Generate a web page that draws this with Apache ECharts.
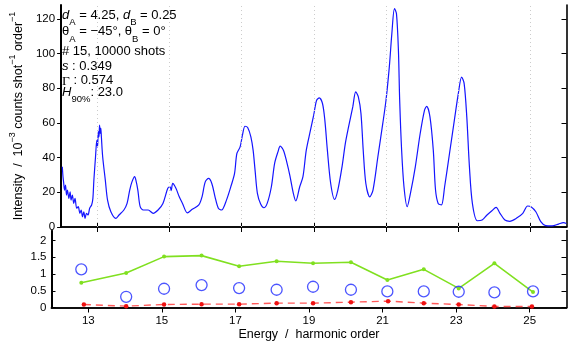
<!DOCTYPE html>
<html>
<head>
<meta charset="utf-8">
<script src="https://cdn.jsdelivr.net/npm/echarts@6/dist/echarts.min.js"></script>
<style>
  html, body { margin: 0; padding: 0; background: #fff; }
  #chart { width: 568px; height: 345px; }
</style>
</head>
<body>
<div id="chart"></div>
<script>
// Harmonic spectrum (energy in harmonic order, intensity in 1e-3 counts/shot/order)
const spectrumEnergy = [
  12.034, 12.053, 12.069, 12.096, 12.123, 12.150, 12.177, 12.215, 12.250, 12.277,
  12.313, 12.350, 12.386, 12.432, 12.475, 12.521, 12.556, 12.594, 12.629, 12.664,
  12.702, 12.746, 12.792, 12.846, 12.881, 12.908, 12.954, 12.989, 13.010, 13.030,
  13.050, 13.065, 13.085, 13.100, 13.116, 13.152, 13.225, 13.287, 13.379, 13.514,
  13.604, 13.739, 13.828, 13.901, 13.963, 14.037, 14.072, 14.126, 14.191, 14.280,
  14.415, 14.551, 14.686, 14.821, 14.956, 15.019, 15.050, 15.092, 15.181, 15.273,
  15.363, 15.498, 15.633, 15.815, 15.904, 15.993, 16.085, 16.175, 16.264, 16.356,
  16.445, 16.581, 16.716, 16.805, 16.870, 16.959, 17.032, 17.095, 17.168, 17.257,
  17.319, 17.373, 17.438, 17.528, 17.617, 17.709, 17.825, 17.915, 18.007, 18.069,
  18.158, 18.250, 18.339, 18.429, 18.502, 18.610, 18.700, 18.792, 18.908, 18.997,
  19.078, 19.152, 19.241, 19.306, 19.376, 19.468, 19.576, 19.666, 19.782, 19.874,
  19.963, 20.080, 20.161, 20.234, 20.307, 20.369, 20.442, 20.551, 20.640, 20.775,
  20.911, 21.000, 21.092, 21.162, 21.235, 21.290, 21.344, 21.379, 21.433, 21.498,
  21.587, 21.677, 21.812, 21.947, 22.066, 22.128, 22.218, 22.310, 22.372, 22.445,
  22.535, 22.624, 22.759, 22.894, 23.003, 23.095, 23.165, 23.238, 23.311, 23.393,
  23.528, 23.663, 23.798, 23.934, 24.050, 24.158, 24.294, 24.429, 24.610, 24.789,
  24.924, 25.016, 25.151, 25.287, 25.422, 25.601, 25.780, 25.915, 25.996
];
const spectrumIntensity = [
  34.7, 29.0, 26.0, 21.3, 24.2, 18.4, 21.3, 16.5, 20.3, 15.5,
  18.4, 13.6, 16.5, 10.8, 11.7, 7.9, 9.8, 5.9, 8.8, 5.0,
  7.9, 6.9, 10.8, 12.7, 16.5, 27.0, 40.5, 50.0, 46.0, 55.0,
  52.0, 58.7, 54.0, 57.0, 52.0, 40.5, 27.0, 15.5, 8.8, 5.0,
  6.9, 9.8, 13.6, 21.3, 26.0, 29.0, 27.0, 21.3, 11.7, 9.8,
  9.8, 7.9, 9.8, 13.6, 22.3, 23.2, 21.0, 25.1, 22.3, 17.4,
  13.6, 8.2, 10.2, 12.7, 17.4, 26.0, 28.0, 25.1, 17.4, 10.8,
  9.8, 15.5, 24.2, 30.9, 42.4, 46.2, 53.9, 58.1, 57.4, 52.0,
  44.3, 32.8, 19.4, 13.2, 11.1, 13.6, 23.2, 36.7, 43.3, 46.6,
  44.3, 37.6, 29.5, 19.8, 15.0, 23.2, 29.0, 44.3, 55.8, 64.5,
  73.1, 74.4, 71.2, 61.6, 44.3, 25.1, 15.9, 21.3, 34.7, 48.2,
  57.7, 69.2, 77.9, 75.0, 65.4, 44.3, 25.1, 17.4, 21.3, 40.5,
  59.7, 73.1, 92.3, 111.5, 125.9, 123.0, 101.9, 73.1, 44.3, 23.2,
  11.7, 19.4, 34.7, 53.9, 67.3, 69.6, 63.5, 44.3, 21.3, 13.6,
  12.7, 23.2, 42.4, 61.6, 76.9, 86.5, 82.7, 63.5, 34.7, 13.6,
  3.6, 4.0, 6.9, 9.4, 11.3, 7.9, 4.0, 3.3, 5.0, 7.9,
  12.1, 11.7, 8.8, 3.1, 0.8, 0.6, 1.7, 2.5, 2.0
];

// Per-harmonic quantities in the lower panel
const harmonicEnergy = [12.81, 14.03, 15.06, 16.08, 17.10, 18.12, 19.11, 20.14, 21.13, 22.12, 23.07, 24.04, 25.09];
const lineValues     = [0.74, 1.03, 1.52, 1.55, 1.23, 1.38, 1.32, 1.35, 0.82, 1.14, 0.57, 1.32, 0.46];
const circleValues   = [1.14, 0.32, 0.56, 0.67, 0.58, 0.53, 0.62, 0.53, 0.48, 0.48, 0.47, 0.45, 0.48];
const dashedEnergy   = [12.88, 14.03, 15.06, 16.08, 17.10, 18.12, 19.11, 20.14, 21.15, 22.12, 23.07, 24.04, 25.06];
const dashedValues   = [0.09, 0.04, 0.09, 0.10, 0.10, 0.13, 0.13, 0.16, 0.19, 0.13, 0.09, 0.03, 0.03];

// Tick positions
const energyTicks = [13, 15, 17, 19, 21, 23, 25];
const intensityTicks = [0, 20, 40, 60, 80, 100, 120];
const lowerTicks = [0, 0.5, 1, 1.5, 2];

const SANS = "'Liberation Sans', Arial, Helvetica, sans-serif";
const SERIF = "'Liberation Serif', 'Times New Roman', serif";

const zip = (xs, ys) => xs.map((x, i) => [x, ys[i]]);

const frameLine = { show: true, lineStyle: { color: '#000', width: 1.6 } };
const tickStyle = { color: '#000', width: 1 };

const annoRich = {
  m:   { fontFamily: SANS, fontSize: 13, lineHeight: 14, verticalAlign: 'top', color: '#000' },
  i:   { fontFamily: SANS, fontSize: 13, lineHeight: 14, verticalAlign: 'top', fontStyle: 'italic', color: '#000' },
  g:   { fontFamily: SERIF, fontSize: 13.5, lineHeight: 14, verticalAlign: 'top', color: '#000' },
  sub: { fontFamily: SANS, fontSize: 9.5, lineHeight: 9, padding: [9, 0, 0, 0], verticalAlign: 'top', color: '#000' }
};
const annotationLines = [
  { y: 8.5,  text: '{i|d}{sub|A}{m| = 4.25, }{i|d}{sub|B}{m| = 0.25}' },
  { y: 25,   text: '{m|θ}{sub|A}{m| = −45°, θ}{sub|B}{m| = 0°}' },
  { y: 44.5, text: '{m|# 15, 10000 shots}' },
  { y: 59.5, text: '{i|s}{m| : 0.349}' },
  { y: 74,   text: '{g|Γ}{m| : 0.574}' },
  { y: 85.5, text: '{i|H}{sub|90%}{m|: 23.0}' }
];

const chart = echarts.init(document.getElementById('chart'), null, { renderer: 'canvas' });

chart.setOption({
  animation: false,
  backgroundColor: '#fff',
  grid: [
    { left: 51.5, top: 5, width: 515, height: 222 },
    { left: 51.5, top: 230.5, width: 515, height: 77 }
  ],
  xAxis: [
    { gridIndex: 0, type: 'value', min: 12, max: 26, position: 'bottom',
      axisLine: frameLine,
      axisTick: { inside: true, length: 5, customValues: energyTicks, lineStyle: tickStyle },
      axisLabel: { show: false }, splitLine: { show: false } },
    { gridIndex: 0, type: 'value', min: 12, max: 26, position: 'top',
      axisLine: frameLine,
      axisTick: { inside: true, length: 5, customValues: energyTicks, lineStyle: tickStyle },
      axisLabel: { show: false }, splitLine: { show: false } },
    { gridIndex: 1, type: 'value', min: 12, max: 26, position: 'bottom',
      axisLine: frameLine,
      axisTick: { show: false },
      axisLabel: { customValues: energyTicks, fontFamily: SANS, fontSize: 11.5, color: '#000', margin: 7 },
      splitLine: { show: false },
      name: 'Energy  /  harmonic order', nameLocation: 'middle', nameGap: 21,
      nameTextStyle: { fontFamily: SANS, fontSize: 12.5, color: '#000' } },
    { gridIndex: 1, type: 'value', min: 12, max: 26, position: 'top',
      axisLine: frameLine,
      axisTick: { inside: true, length: 5, customValues: energyTicks, lineStyle: tickStyle },
      axisLabel: { show: false }, splitLine: { show: false } }
  ],
  yAxis: [
    { gridIndex: 0, type: 'value', min: 0, max: 128, position: 'left',
      axisLine: { show: true, lineStyle: { color: '#000', width: 2 } },
      axisTick: { inside: false, length: 4, customValues: intensityTicks, lineStyle: tickStyle },
      axisLabel: { customValues: intensityTicks, fontFamily: SANS, fontSize: 11.5, color: '#000', margin: 6 },
      splitLine: { show: false },
      name: '{m|Intensity  /  10}{sup|−3}{m| counts shot}{sup|−1}{m| order}{sup|−1}',
      nameLocation: 'middle', nameRotate: 90, nameGap: 36,
      nameTextStyle: {
        rich: {
          m:   { fontFamily: SANS, fontSize: 12.5, lineHeight: 14, padding: [4, 0, 0, 0], verticalAlign: 'top', color: '#000' },
          sup: { fontFamily: SANS, fontSize: 9, lineHeight: 9, verticalAlign: 'top', color: '#000' }
        }
      } },
    { gridIndex: 0, type: 'value', min: 0, max: 128, position: 'right',
      axisLine: frameLine,
      axisTick: { inside: true, length: 5, customValues: intensityTicks, lineStyle: tickStyle },
      axisLabel: { show: false }, splitLine: { show: false } },
    { gridIndex: 1, type: 'value', min: 0, max: 2.3, position: 'left',
      axisLine: { show: true, lineStyle: { color: '#000', width: 2 } },
      axisTick: { inside: true, length: 4, customValues: lowerTicks, lineStyle: tickStyle },
      axisLabel: { customValues: lowerTicks, fontFamily: SANS, fontSize: 11.5, color: '#000', margin: 5 },
      splitLine: { show: false } },
    { gridIndex: 1, type: 'value', min: 0, max: 2.3, position: 'right',
      axisLine: frameLine,
      axisTick: { inside: true, length: 5, customValues: lowerTicks, lineStyle: tickStyle },
      axisLabel: { show: false }, splitLine: { show: false } }
  ],
  series: [
    {
      name: 'spectrum', type: 'line', xAxisIndex: 0, yAxisIndex: 0,
      data: zip(spectrumEnergy, spectrumIntensity),
      showSymbol: false, smooth: 0.3,
      lineStyle: { color: '#1515ff', width: 1.2 },
      z: 3,
      markLine: {
        silent: true, symbol: 'none', label: { show: false },
        lineStyle: { color: '#cccccc', type: [1, 3], width: 1 },
        data: energyTicks.map(v => ({ xAxis: v }))
      }
    },
    {
      name: 'line', type: 'line', xAxisIndex: 2, yAxisIndex: 2,
      data: zip(harmonicEnergy, lineValues),
      symbol: 'circle', symbolSize: 4,
      lineStyle: { color: '#80e020', width: 1.6 },
      itemStyle: { color: '#80e020' },
      z: 3
    },
    {
      name: 'circles', type: 'scatter', xAxisIndex: 2, yAxisIndex: 2,
      data: zip(harmonicEnergy, circleValues),
      symbol: 'circle', symbolSize: 11,
      itemStyle: { color: 'rgba(0,0,0,0)', borderColor: '#1f2bff', borderWidth: 1.3 },
      z: 4
    },
    {
      name: 'dashed', type: 'line', xAxisIndex: 2, yAxisIndex: 2,
      data: zip(dashedEnergy, dashedValues),
      symbol: 'circle', symbolSize: 4.5,
      lineStyle: { color: '#ff5a5a', width: 1.4, type: [7, 5] },
      itemStyle: { color: '#ee1111' },
      z: 3
    }
  ],
  graphic: annotationLines.map(l => ({
    type: 'text', left: 62, top: l.y, z: 10,
    style: { text: l.text, rich: annoRich, fill: '#000' }
  }))
});
</script>
</body>
</html>
